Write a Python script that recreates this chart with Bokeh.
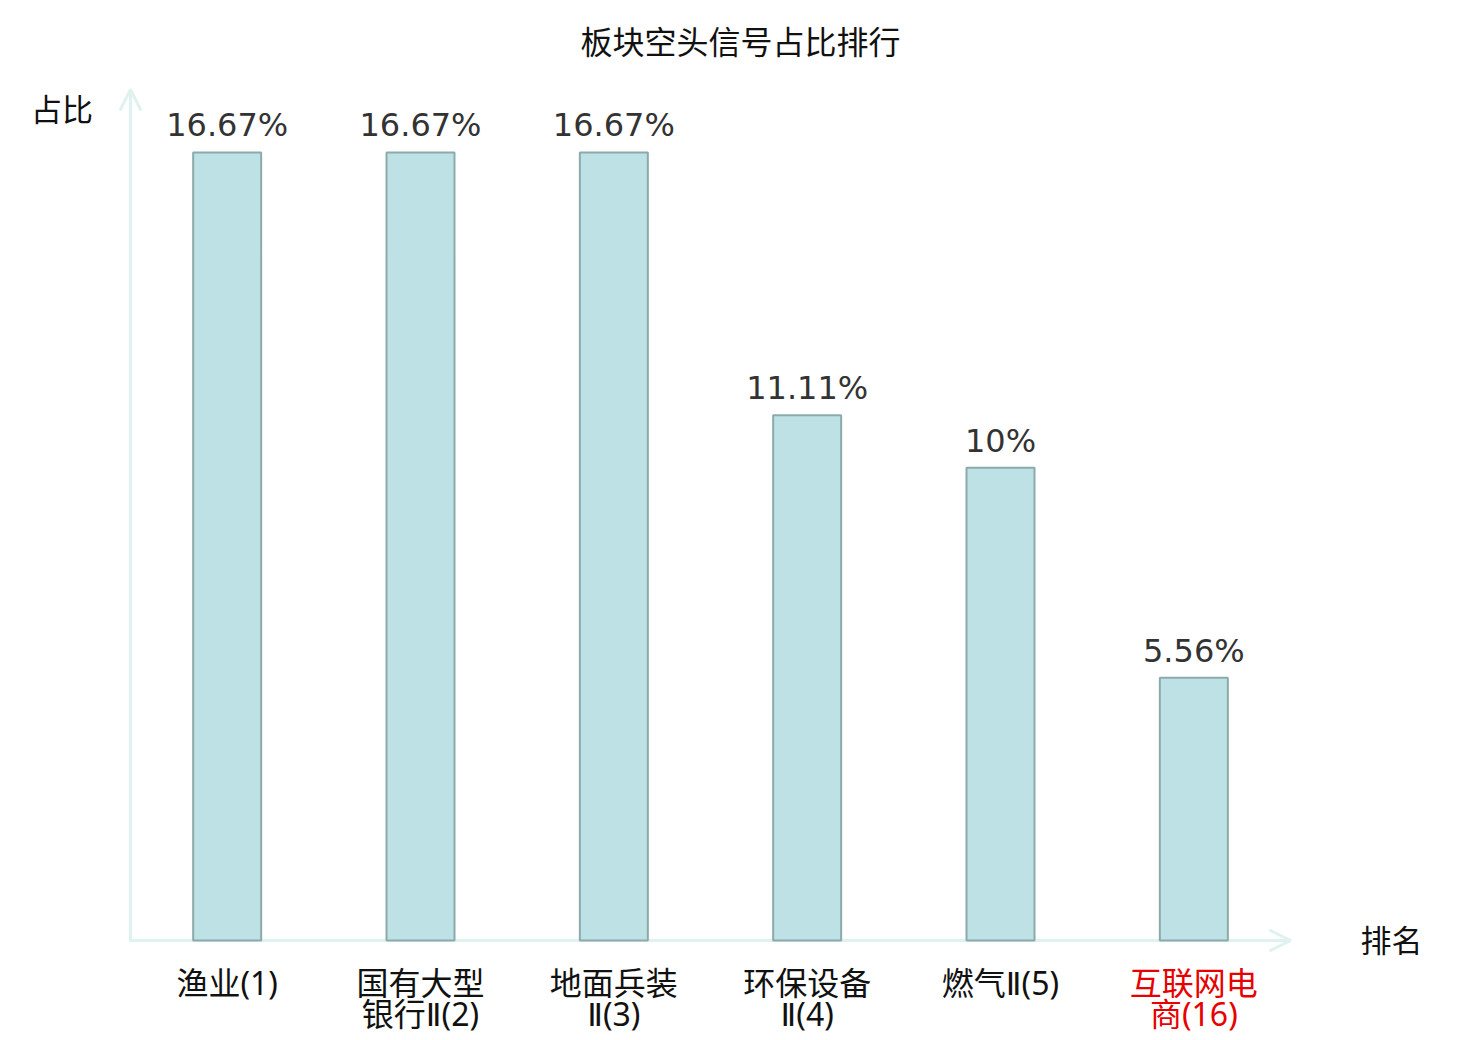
from bokeh.plotting import figure
from bokeh.models import Range1d, Arrow, OpenHead, Label, ColumnDataSource
from bokeh.core.properties import value
from bokeh.embed import file_html
from bokeh.resources import INLINE

# ---- data ----
title_text = "板块空头信号占比排行"
categories = ["渔业(1)", "国有大型\n银行Ⅱ(2)", "地面兵装\nⅡ(3)", "环保设备\nⅡ(4)", "燃气Ⅱ(5)", "互联网电\n商(16)"]
values = [16.67, 16.67, 16.67, 11.11, 10, 5.56]
value_labels = ["16.67%", "16.67%", "16.67%", "11.11%", "10%", "5.56%"]
label_colors = ["#111111", "#111111", "#111111", "#111111", "#111111", "#e60000"]
y_axis_name = "占比"
x_axis_name = "排名"
y_max = 18

# ---- layout (pixels) ----
W, H = 1480, 1040
axis_left, axis_right = 130, 1290   # x pixel of y-axis and x-arrow tip
axis_top, axis_bottom = 89, 940     # y pixel of y-arrow tip and x-axis
n = len(categories)
xppu = (axis_right - axis_left) / n
yppu = (axis_bottom - axis_top) / y_max

p = figure(width=W, height=H, output_backend="svg", toolbar_location=None,
           x_range=Range1d(-axis_left / xppu, n + (W - axis_right) / xppu),
           y_range=Range1d(-(H - axis_bottom) / yppu, y_max + axis_top / yppu),
           min_border=0, outline_line_color=None)
p.axis.visible = False
p.grid.visible = False
p.background_fill_color = "white"
p.border_fill_color = "white"

xs = [i + 0.5 for i in range(n)]
src = ColumnDataSource(dict(x=xs, top=values, cat=categories, lab=value_labels, col=label_colors,
                            zero=[0] * n))

axis_color = "#dff2f0"
p.add_layout(Arrow(end=OpenHead(size=21, line_color=axis_color, line_width=3),
                   x_start=-0.006, y_start=0, x_end=n, y_end=0,
                   line_color=axis_color, line_width=3, level="underlay"))
p.add_layout(Arrow(end=OpenHead(size=21, line_color=axis_color, line_width=3),
                   x_start=0, y_start=-0.02, x_end=0, y_end=y_max,
                   line_color=axis_color, line_width=3, level="underlay"))

p.vbar(x="x", top="top", bottom=0, width=68 / xppu, source=src,
       fill_color="#bde1e4", line_color="#8caaab", line_width=2)

p.text(x="x", y="top", text="lab", source=src, text_align="center",
       text_baseline="alphabetic", y_offset=-27, text_color="#333333",
       text_font=value("DejaVu Sans"), text_font_size="32px")

p.text(x="x", y="zero", text="cat", source=src, text_align="center",
       text_baseline="top", y_offset=20, text_color="col", text_line_height=0.73,
       text_font=value("Noto Sans Light, Noto Sans, DejaVu Sans, Noto Sans CJK SC"),
       text_font_size="32px")

p.add_layout(Label(x=W / 2, y=H - 39, x_units="screen", y_units="screen", text=title_text,
                   text_align="center", text_baseline="middle", text_color="#111111",
                   text_font="Noto Sans CJK SC", text_font_size="32px"))
p.add_layout(Label(x=61.5, y=H - 107, x_units="screen", y_units="screen", text=y_axis_name,
                   text_align="center", text_baseline="middle", text_color="#111111",
                   text_font="Noto Sans CJK SC", text_font_size="31px"))
p.add_layout(Label(x=1391, y=H - 938, x_units="screen", y_units="screen", text=x_axis_name,
                   text_align="center", text_baseline="middle", text_color="#111111",
                   text_font="Noto Sans CJK SC", text_font_size="31px"))

open("out.html", "w").write(file_html(p, INLINE))
